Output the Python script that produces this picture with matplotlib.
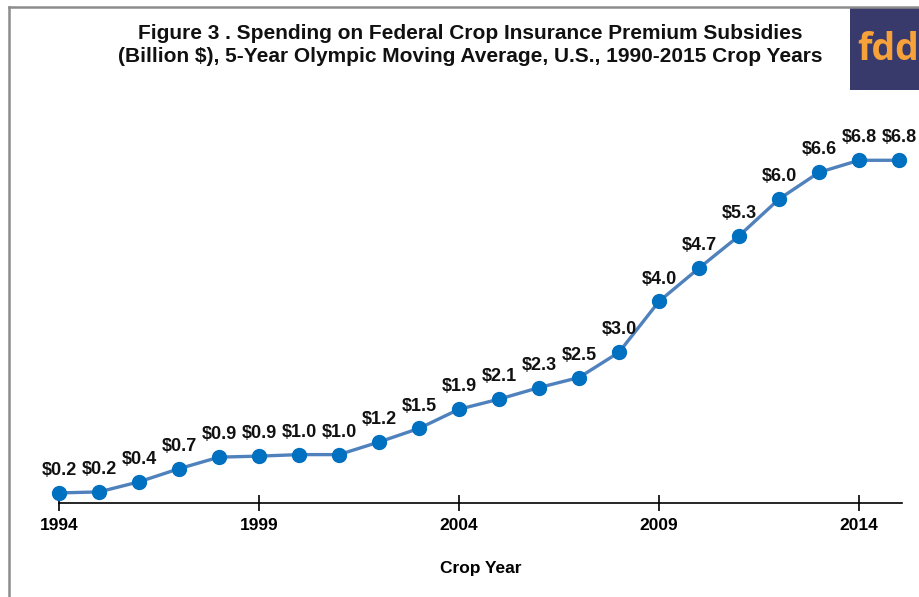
import matplotlib
matplotlib.use("Agg")
import matplotlib.pyplot as plt
from matplotlib.patches import Rectangle
from matplotlib.lines import Line2D

years = list(range(1994, 2016))
subsidies = [0.20, 0.22, 0.42, 0.68, 0.91, 0.93, 0.96, 0.96, 1.21, 1.48, 1.86, 2.06,
             2.29, 2.49, 2.99, 4.00, 4.66, 5.30, 6.03, 6.56, 6.80, 6.80]
tick_years = [1994, 1999, 2004, 2009, 2014]
title = ("Figure 3 . Spending on Federal Crop Insurance Premium Subsidies\n"
         "(Billion $), 5-Year Olympic Moving Average, U.S., 1990-2015 Crop Years")
xlabel = "Crop Year"

plt.rcParams['font.family'] = ['Liberation Sans', 'DejaVu Sans']

W, H = 920, 597
fig = plt.figure(figsize=(W / 100, H / 100), dpi=100)
fig.patch.set_facecolor("white")

# outer gray frame (left & top visible)
fig.add_artist(Line2D([8.5 / W, 8.5 / W], [0, 1 - 6.5 / H], color="#8c8c8c", lw=1.8,
                      transform=fig.transFigure))
fig.add_artist(Line2D([8.5 / W, 1], [1 - 6.5 / H, 1 - 6.5 / H], color="#8c8c8c", lw=1.8,
                      transform=fig.transFigure))

left_px, right_px, bottom_px, top_px = 59, 902, 503, 125
ax = fig.add_axes([left_px / W, 1 - bottom_px / H, (right_px - left_px) / W,
                   (bottom_px - top_px) / H])
ax.set_xlim(1994, 2015.075)
ax.set_ylim(0, 7.5)

ax.plot(years, subsidies, color="#4f81bd", lw=2.4, zorder=2, clip_on=False)
ax.plot(years, subsidies, 'o', color="#0070c0", markersize=10, zorder=3, clip_on=False)

for x, y in zip(years, subsidies):
    ax.annotate(f"${y:.1f}", (x, y), xytext=(0, 10), textcoords="offset points",
                ha="center", va="bottom", fontsize=13, fontweight="bold",
                color="#111111", annotation_clip=False)

for s in ["left", "right", "top"]:
    ax.spines[s].set_visible(False)
ax.spines["bottom"].set_color("black")
ax.spines["bottom"].set_linewidth(1.2)
ax.set_yticks([])
ax.set_xticks(tick_years)
ax.set_xticklabels([str(t) for t in tick_years], fontsize=12.5, fontweight="bold")
ax.tick_params(axis="x", direction="inout", length=12, width=1.2, pad=5, colors="black")
ax.set_xlabel(xlabel, fontsize=12.5, fontweight="bold", labelpad=20)

fig.text(470 / W, 1 - 45 / H, title, ha="center", va="center", fontsize=15,
         fontweight="bold", linespacing=1.32, color="#111111")

# logo
fig.add_artist(Rectangle((850 / W, 1 - 90 / H), 70 / W, 83 / H, transform=fig.transFigure,
                         facecolor="#383a6c", edgecolor="none"))
fig.text(857 / W, 1 - 50 / H, "fdd", ha="left", va="center", fontsize=27,
         color="#f7a13a", family="Open Sans", fontweight="bold")

fig.savefig("out.png", dpi=100)
